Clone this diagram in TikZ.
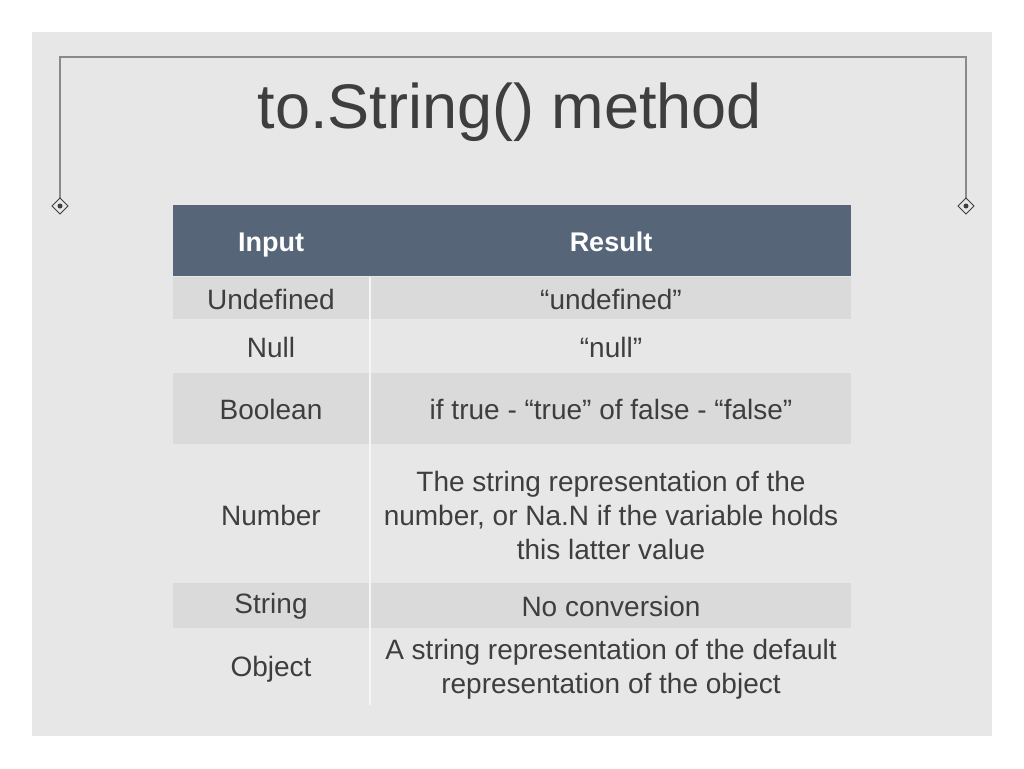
\documentclass[tikz,border=0pt]{standalone}
\usepackage{fontspec}
\setmainfont{Liberation Sans}
\usetikzlibrary{positioning}
\definecolor{panel}{HTML}{E7E7E7}
\definecolor{rowgray}{HTML}{DADADA}
\definecolor{header}{HTML}{566577}
\definecolor{ink}{HTML}{3E3E3E}
\definecolor{rule}{HTML}{8A8A8A}
\begin{document}
\begin{tikzpicture}[x=1pt,y=-1pt,
    cell/.style={inner sep=0pt,align=center,text=ink,font=\fontsize{28}{34}\selectfont},
    head/.style={cell,text=white,text height=20pt,text depth=6pt,font=\fontsize{27}{33}\selectfont\bfseries}]
    \useasboundingbox (0,0) rectangle (1024,768);
    \fill[white] (0,0) rectangle (1024,768);
    \fill[panel] (32,32) rectangle (992,736);

    % frame
    \coordinate (FL) at (60,206);
    \coordinate (FR) at (966,206);
    \draw[rule,line width=1.5pt] (FL) -- (60,57) -- (966,57) -- (FR);
    \foreach \c in {FL,FR} {
        \draw[ink,fill=panel,line width=1pt] ([xshift=-8]\c) -- ([yshift=-8]\c) -- ([xshift=8]\c) -- ([yshift=8]\c) -- cycle;
        \fill[ink] (\c) circle (2.5);
    }
    \node[text=ink,font=\fontsize{63}{72}\selectfont] (title) at (510,112) {to.String() method};

    % table
    \fill[header] (173,205) rectangle (851,276);
    \fill[rowgray] (173,277) rectangle (369,319);
    \fill[rowgray] (371,277) rectangle (851,319);
    \fill[rowgray] (173,373) rectangle (369,444);
    \fill[rowgray] (371,373) rectangle (851,444);
    \fill[rowgray] (173,583) rectangle (369,628);
    \fill[rowgray] (371,583) rectangle (851,628);
    \draw[white!60!panel,line width=2pt] (370,277) -- (370,705);

    \node[head] (hIn) at (271,244) {Input};
    \node[head] (hRes) at (611,244) {Result};
    \node[cell] (i1) at (271,299) {Undefined};
    \node[cell] (r1) at (611,299) {“undefined”};
    \node[cell] (i2) at (271,347) {Null};
    \node[cell] (r2) at (611,347) {“null”};
    \node[cell] (i3) at (271,409) {Boolean};
    \node[cell] (r3) at (611,409) {if true - “true” of false - “false”};
    \node[cell] (i4) at (271,515) {Number};
    \node[cell] (r4) at (611,515) {The string representation of the\\number, or Na.N if the variable holds\\this latter value};
    \node[cell] (i5) at (271,606) {String};
    \node[cell] (r5) at (611,606) {No conversion};
    \node[cell] (i6) at (271,669) {Object};
    \node[cell] (r6) at (611,669) {A string representation of the default\\representation of the object};
\end{tikzpicture}
\end{document}
